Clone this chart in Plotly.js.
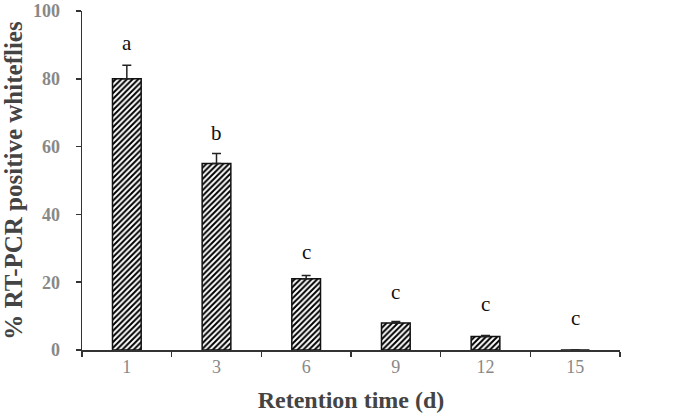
<!DOCTYPE html>
<html><head><meta charset="utf-8">
<script src="https://cdn.plot.ly/plotly-3.0.1.min.js"></script>
<style>html,body{margin:0;padding:0;background:#fff}#c{width:675px;height:419px}</style>
</head><body><div id="c"></div>
<script>
const categories = ['1','3','6','9','12','15'];
const values = [80, 55, 21, 8, 4, 0];
const errUpper = [4, 3, 1, 0.4, 0.3, 0];
const letters = ['a','b','c','c','c','c'];
const letterY = [90.5, 64, 29, 17, 13.5, 9.5];
const yTicks = [0, 20, 40, 60, 80, 100];

const serif = '"Liberation Serif", "Times New Roman", serif';
const trace = {
  type: 'bar', x: categories, y: values, width: 0.32,
  marker: {color: '#fff', line: {color: '#111', width: 1.5},
    pattern: {shape: '/', fgcolor: '#000', bgcolor: '#fff', size: 4, solidity: 0.5}},
  error_y: {type: 'data', symmetric: false, array: errUpper, arrayminus: values.map(()=>0),
    color: '#222', thickness: 1.5, width: 4.5},
  hoverinfo: 'none', cliponaxis: false
};
const annotations = categories.map((c,i)=>({x: i, y: letterY[i], text: letters[i], showarrow: false,
  xanchor: 'center', yanchor: 'middle', font: {family: serif, size: 21, color: '#111'}}));
const layout = {
  width: 675, height: 419, margin: {l: 82, r: 55, t: 11, b: 69},
  paper_bgcolor: '#fff', plot_bgcolor: '#fff', showlegend: false,
  xaxis: {type: 'category', range: [-0.5, 5.5], showline: true, linecolor: '#333', linewidth: 1.5,
    ticks: 'outside', tickson: 'boundaries', ticklen: 5, tickcolor: '#333', tickwidth: 1.5,
    showgrid: false, zeroline: false,
    tickfont: {family: serif, size: 18, color: '#888'},
    title: {text: 'Retention time (d)', standoff: 15, font: {family: serif, size: 24, color: '#444', weight: 'bold'}}},
  yaxis: {range: [0, 100.001], tickvals: yTicks, ticktext: yTicks.map(String), showline: true, linecolor: '#333', linewidth: 1.5,
    ticks: 'outside', ticklen: 5, tickcolor: '#333', tickwidth: 1.5, showgrid: false, zeroline: false,
    ticklabelstandoff: 12, ticklabeloverflow: 'allow',
    tickfont: {family: serif, size: 18, color: '#888', weight: 'bold'},
    title: {text: '% RT-PCR positive whiteflies', standoff: 6, font: {family: serif, size: 25, color: '#444', weight: 'bold'}}},
  annotations: annotations
};
Plotly.newPlot('c', [trace], layout, {displayModeBar: false, staticPlot: true});
</script></body></html>
